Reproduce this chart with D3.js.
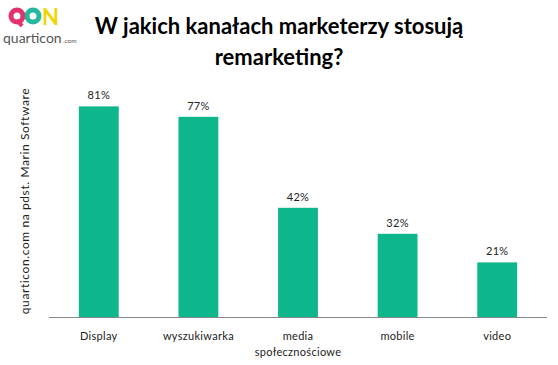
<!DOCTYPE html>
<html>
<head>
<meta charset="utf-8">
<script src="https://cdn.jsdelivr.net/npm/d3@7"></script>
<style>
  body { margin: 0; background: #fff; }
  svg { display: block; }
  text { font-family: Lato, "Open Sans", sans-serif; }
</style>
</head>
<body>
<script>
// data
var categories = ["Display", "wyszukiwarka", "media\nspołecznościowe", "mobile", "video"];
var values = [81, 77, 42, 32, 21];
var valueLabels = ["81%", "77%", "42%", "32%", "21%"];
var titleLines = ["W jakich kanałach marketerzy stosują", "remarketing?"];
var sourceNote = "quarticon.com na pdst. Marin Software";

var W = 558, H = 365;
var svg = d3.select("body").append("svg").attr("width", W).attr("height", H);

var x = d3.scaleBand().domain(categories).range([49, 547]).paddingInner(0.6).paddingOuter(0.3);
var y = d3.scaleLinear().domain([0, 100]).range([317, 57]);

// logo
var logo = svg.append("g");
logo.append("circle").attr("cx", 17).attr("cy", 16).attr("r", 6).attr("fill", "none")
    .attr("stroke", "#e4326c").attr("stroke-width", 5);
logo.append("path").attr("d", "M17,20 L22,26").attr("stroke", "#e4326c").attr("stroke-width", 4);
logo.append("circle").attr("cx", 33).attr("cy", 16).attr("r", 6).attr("fill", "none")
    .attr("stroke", "#19b49a").attr("stroke-width", 5).attr("opacity", 0.95);
logo.append("text").attr("x", 42).attr("y", 25).attr("font-size", 22).attr("font-weight", "bold")
    .attr("fill", "#f2d500").text("N");
logo.append("text").attr("x", 3).attr("y", 43).attr("font-size", 14).attr("fill", "#555")
    .text("quarticon");
logo.append("text").attr("x", 63).attr("y", 43).attr("font-size", 6.5).attr("fill", "#555")
    .text(".com");

// title
svg.append("g").selectAll("text").data(titleLines).enter().append("text")
    .attr("x", 279).attr("y", function(d, i) { return 34 + i * 31; })
    .attr("text-anchor", "middle").attr("font-size", 22).attr("font-weight", "bold")
    .attr("fill", "#000").text(function(d) { return d; });

// source note, rotated
svg.append("text").attr("transform", "translate(29,201) rotate(-90)")
    .attr("text-anchor", "middle").attr("font-size", 12).attr("letter-spacing", 0.6)
    .attr("fill", "#222").text(sourceNote);

// bars
svg.append("g").selectAll("rect").data(values).enter().append("rect")
    .attr("x", function(d, i) { return x(categories[i]); })
    .attr("y", function(d) { return y(d); })
    .attr("width", x.bandwidth())
    .attr("height", function(d) { return y(0) - y(d); })
    .attr("fill", "#0db68b");

// value labels
svg.append("g").selectAll("text").data(values).enter().append("text")
    .attr("x", function(d, i) { return x(categories[i]) + x.bandwidth() / 2; })
    .attr("y", function(d) { return y(d) - 7; })
    .attr("text-anchor", "middle").attr("font-size", 11).attr("letter-spacing", 0.3)
    .attr("fill", "#222").text(function(d, i) { return valueLabels[i]; });

// x axis
var axis = svg.append("g").attr("transform", "translate(0," + y(0) + ")")
    .call(d3.axisBottom(x).tickSize(0).tickFormat(""));
axis.select(".domain").attr("stroke", "#888").attr("d", "M49,0.5H547");

var lab = svg.append("g").selectAll("text").data(categories).enter().append("text")
    .attr("x", function(d) { return x(d) + x.bandwidth() / 2; })
    .attr("y", 340)
    .attr("text-anchor", "middle").attr("font-size", 11).attr("letter-spacing", 0.3)
    .attr("fill", "#222");
lab.selectAll("tspan").data(function(d) { return d.split("\n"); }).enter().append("tspan")
    .attr("x", function() { return d3.select(this.parentNode).attr("x"); })
    .attr("dy", function(d, i) { return i ? 16 : 0; })
    .text(function(d) { return d; });
</script>
</body>
</html>
